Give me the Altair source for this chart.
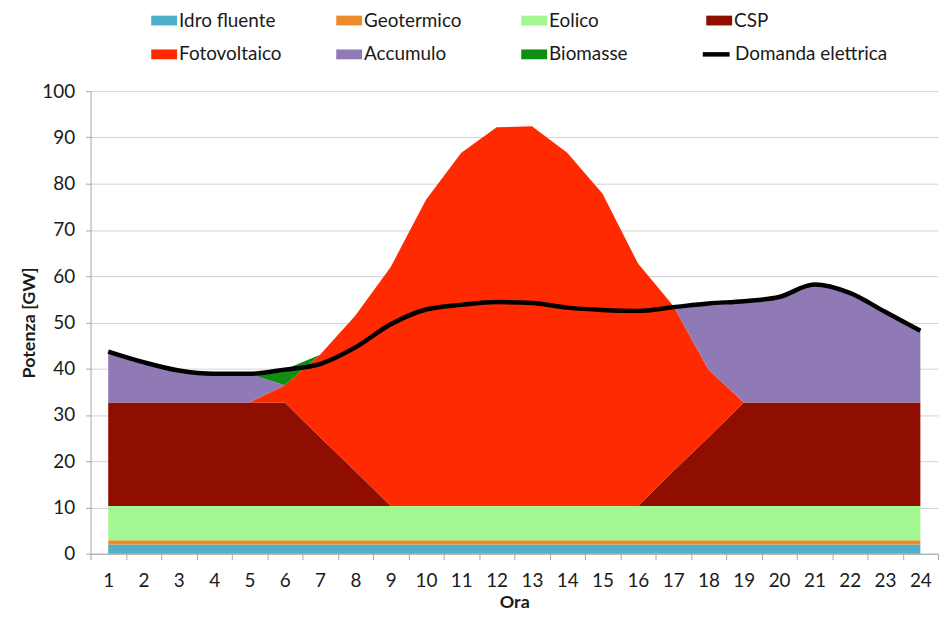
import altair as alt
import pandas as pd

# ---- data ----
ore = [1, 2, 3, 4, 5, 6, 7, 8, 9, 10, 11, 12, 13, 14, 15, 16, 17, 18, 19, 20, 21, 22, 23, 24]

fonti = ["Idro fluente", "Geotermico", "Eolico", "CSP", "Fotovoltaico", "Accumulo", "Biomasse"]
colori = ["#4FB0CC", "#EE8B2D", "#A3F791", "#8F0E00", "#FF2A00", "#907AB5", "#0E8F12"]

idro_fluente = [2.0, 2.0, 2.0, 2.0, 2.0, 2.0, 2.0, 2.0, 2.0, 2.0, 2.0, 2.0,
                2.0, 2.0, 2.0, 2.0, 2.0, 2.0, 2.0, 2.0, 2.0, 2.0, 2.0, 2.0]
geotermico = [0.9, 0.9, 0.9, 0.9, 0.9, 0.9, 0.9, 0.9, 0.9, 0.9, 0.9, 0.9,
              0.9, 0.9, 0.9, 0.9, 0.9, 0.9, 0.9, 0.9, 0.9, 0.9, 0.9, 0.9]
eolico = [7.4, 7.4, 7.4, 7.4, 7.4, 7.4, 7.4, 7.4, 7.4, 7.4, 7.4, 7.4,
          7.4, 7.4, 7.4, 7.4, 7.4, 7.4, 7.4, 7.4, 7.4, 7.4, 7.4, 7.4]
csp = [22.4, 22.4, 22.4, 22.4, 22.4, 22.4, 14.9, 7.5, 0.0, 0.0, 0.0, 0.0,
       0.0, 0.0, 0.0, 0.0, 7.5, 14.9, 22.4, 22.4, 22.4, 22.4, 22.4, 22.4]
fotovoltaico = [0.0, 0.0, 0.0, 0.0, 0.0, 3.7, 17.8, 33.7, 51.7, 66.2, 76.4, 81.9,
                82.1, 76.4, 67.5, 52.5, 35.8, 14.6, 0.0, 0.0, 0.0, 0.0, 0.0, 0.0]
accumulo = [11.0, 8.7, 6.9, 6.2, 6.2, 0.0, 0.0, 0.0, 0.0, 0.0, 0.0, 0.0,
            0.0, 0.0, 0.0, 0.0, 0.0, 14.3, 21.9, 22.8, 25.5, 23.7, 19.6, 15.5]
biomasse = [0.0, 0.0, 0.0, 0.0, 0.0, 3.4, 0.0, 0.0, 0.0, 0.0, 0.0, 0.0,
            0.0, 0.0, 0.0, 0.0, 0.0, 0.0, 0.0, 0.0, 0.0, 0.0, 0.0, 0.0]
domanda = [43.7, 41.4, 39.6, 38.9, 38.9, 39.8, 41.0, 44.6, 49.6, 52.8, 53.8, 54.4,
           54.2, 53.2, 52.7, 52.5, 53.3, 54.1, 54.6, 55.5, 58.2, 56.4, 52.3, 48.2]

serie = [idro_fluente, geotermico, eolico, csp, fotovoltaico, accumulo, biomasse]

rows = []
for k, (nome, valori) in enumerate(zip(fonti, serie)):
    for ora, v in zip(ore, valori):
        rows.append({"Ora": ora, "Fonte": nome, "ordine": k, "Potenza": v})
df_aree = pd.DataFrame(rows)
df_dom = pd.DataFrame({"Ora": ore, "Potenza": domanda, "Serie": ["Domanda elettrica"] * len(ore)})

x_enc = alt.X(
    "Ora:O",
    title="Ora",
    bandPosition=0.5,
    scale=alt.Scale(type="band", paddingInner=0, paddingOuter=0),
    axis=alt.Axis(labelAngle=0, tickBand="extent", tickSize=6, labelPadding=12,
                  titlePadding=3, grid=False),
)
y_axis = alt.Axis(values=[0, 10, 20, 30, 40, 50, 60, 70, 80, 90, 100], tickSize=5,
                  labelPadding=11, titlePadding=3, grid=True)

aree = alt.Chart(df_aree).mark_area(interpolate="linear").encode(
    x=x_enc,
    y=alt.Y("Potenza:Q", stack="zero", title="Potenza [GW]",
            scale=alt.Scale(domain=[0, 100], nice=False), axis=y_axis),
    fill=alt.Fill(
        "Fonte:N",
        title=None,
        scale=alt.Scale(domain=fonti, range=colori),
        legend=alt.Legend(
            orient="none", legendX=61, legendY=-84, columns=4, direction="horizontal",
            gridAlign="all", columnPadding=54, rowPadding=11, padding=0,
            symbolType="M-1,-0.38L1,-0.38L1,0.38L-1,0.38Z", symbolSize=676,
            symbolStrokeWidth=0, symbolOpacity=1,
            labelFont="Lato", labelFontSize=19, labelColor="#1a1a1a", labelOffset=2,
        ),
    ),
    order=alt.Order("ordine:Q", sort="ascending"),
)

linea = alt.Chart(df_dom).mark_line(strokeWidth=4.5, interpolate="monotone").encode(
    x=x_enc,
    y=alt.Y("Potenza:Q"),
    stroke=alt.Stroke(
        "Serie:N",
        title=None,
        scale=alt.Scale(domain=["Domanda elettrica"], range=["#000000"]),
        legend=alt.Legend(
            orient="none", legendX=613, legendY=-53, padding=0,
            symbolType="stroke", symbolSize=729, symbolStrokeWidth=4.5,
            labelFont="Lato", labelFontSize=19, labelColor="#1a1a1a", labelOffset=3,
        ),
    ),
)

chart = (
    alt.layer(aree, linea)
    .properties(
        width=852, height=465,
        autosize=alt.AutoSizeParams(type="none"),
        padding={"left": 83, "top": 82, "right": 3, "bottom": 57},
    )
    .configure_view(stroke="transparent")
    .configure_axis(
        labelFont="Lato", labelFontSize=19, labelColor="#1a1a1a",
        titleFont="Lato", titleFontSize=18, titleFontWeight="bold", titleColor="#1a1a1a",
        domainColor="#a6a6a6", tickColor="#a6a6a6", gridColor="#d2d2d2",
    )
)

chart.save("out.html", embed_options={"renderer": "svg", "actions": False})
